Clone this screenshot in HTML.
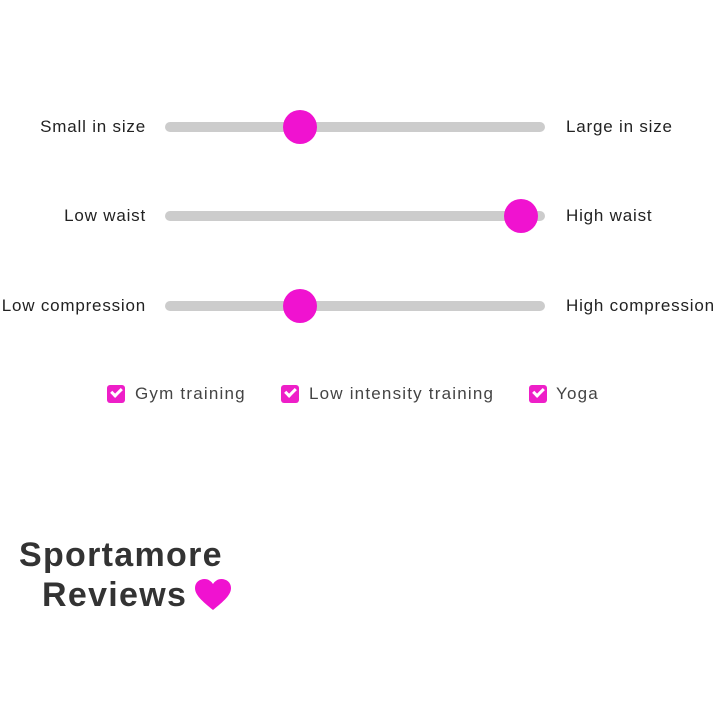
<!DOCTYPE html>
<html><head><style>
body{margin:0;width:720px;height:720px;background:#fff;position:relative;overflow:hidden;font-family:"Liberation Sans",sans-serif;color:#222}
.l{position:absolute;right:574px;font-size:17px;line-height:20px;letter-spacing:0.8px;white-space:nowrap}
.r{position:absolute;left:566px;font-size:17px;line-height:20px;letter-spacing:0.8px;white-space:nowrap}
.t{position:absolute;left:165px;width:380px;height:10px;border-radius:5px;background:#cccccc}
.k{position:absolute;width:34px;height:34px;border-radius:50%;background:#f012d0}
.cb{position:absolute;top:385px;width:18px;height:18px;border-radius:3px;background:#ee1fc8}
.cb::after{content:"";position:absolute;left:4px;top:3px;width:8px;height:4px;border-left:3px solid #fff;border-bottom:3px solid #fff;transform:rotate(-45deg)}
.ct{position:absolute;top:384px;font-size:17px;line-height:20px;color:#444;letter-spacing:1.2px;white-space:nowrap}
.logo{position:absolute;font-weight:bold;font-size:34px;line-height:36px;color:#333;letter-spacing:1.3px}
</style></head><body>
<div class="l" style="top:117px">Small in size</div>
<div class="t" style="top:122px"></div><div class="k" style="left:283px;top:110px"></div>
<div class="r" style="top:117px">Large in size</div>

<div class="l" style="top:206px">Low waist</div>
<div class="t" style="top:211px"></div><div class="k" style="left:504px;top:199px"></div>
<div class="r" style="top:206px">High waist</div>

<div class="l" style="top:296px">Low compression</div>
<div class="t" style="top:301px"></div><div class="k" style="left:283px;top:289px"></div>
<div class="r" style="top:296px">High compression</div>

<div class="cb" style="left:107px"></div><div class="ct" style="left:135px">Gym training</div>
<div class="cb" style="left:281px"></div><div class="ct" style="left:309px">Low intensity training</div>
<div class="cb" style="left:529px"></div><div class="ct" style="left:556px">Yoga</div>

<div class="logo" style="left:19px;top:537px">Sportamore</div>
<div class="logo" style="left:42px;top:577px">Reviews</div>
<svg style="position:absolute;left:194px;top:578px" width="38" height="34" viewBox="0 0 38 34"><path d="M19 32 C8 23 1 17 1 10 C1 4 6 1 10.5 1 C14.5 1 17.5 3.5 19 6 C20.5 3.5 23.5 1 27.5 1 C32 1 37 4 37 10 C37 17 30 23 19 32Z" fill="#f012d0"/></svg>
</body></html>
